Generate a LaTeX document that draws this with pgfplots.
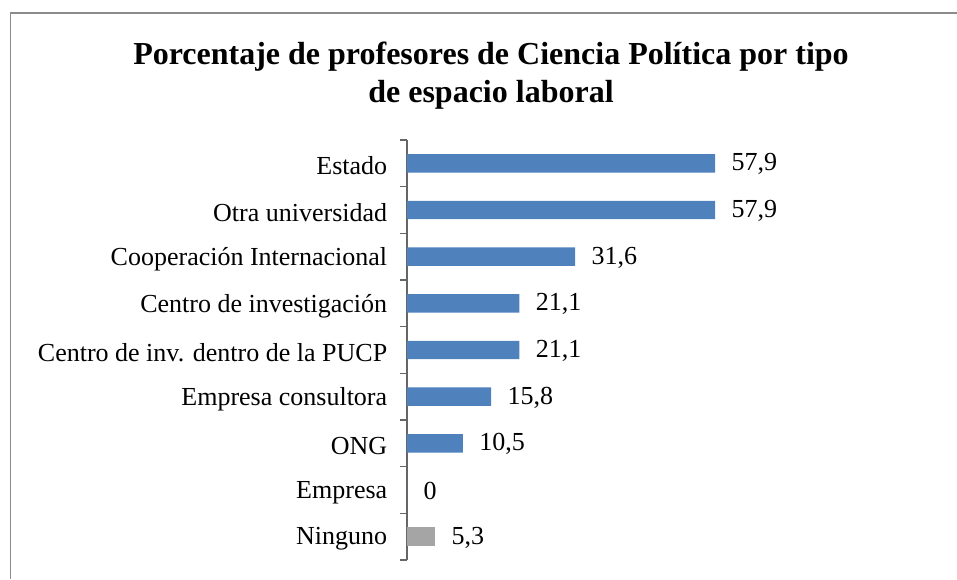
\documentclass[border=0pt]{standalone}
\usepackage{fontspec}
\setmainfont{Liberation Serif}
\usepackage{pgfplots}
\pgfplotsset{compat=1.18}
\definecolor{barblue}{HTML}{4F81BD}
\definecolor{bargray}{HTML}{A5A5A5}
\definecolor{framegray}{HTML}{8C8C8C}
\begin{document}
\begin{tikzpicture}[x=1pt,y=1pt]
\path[use as bounding box] (0,0) rectangle (957,579);
\draw[framegray,line width=1.6pt] (957,566) -- (10.5,566) -- (10.5,0);
\node[font=\fontsize{32}{38}\selectfont\bfseries,align=center] at (491,503) {Porcentaje de profesores de Ciencia Política por tipo\\de espacio laboral};
\begin{axis}[
  at={(407pt,19pt)}, anchor=south west,
  scale only axis, width=532pt, height=420pt,
  xmin=0, xmax=100,
  ymin=-0.5, ymax=8.5, y dir=reverse,
  axis x line=none,
  axis y line*=left,
  y axis line style={draw=gray!80!black, line width=1.2pt},
  ytick={0,...,8},
  yticklabels={Estado,Otra universidad,Cooperación Internacional,Centro de investigación,Centro de inv. dentro de la PUCP,Empresa consultora,ONG,Empresa,Ninguno},
  major y tick style={draw=none},
  minor ytick={-0.5,0.5,...,8.5},
  minor y tick style={draw=gray!80!black, line width=1.2pt},
  minor tick length=7pt,
  tick align=outside,
  yticklabel style={font=\fontsize{26}{30}\selectfont, xshift=-12pt, yshift=-2.5pt},
  xbar, bar width=18.4pt, bar shift=0pt,
  nodes near coords,
  point meta=explicit symbolic,
  every node near coord/.append style={font=\fontsize{26}{30}\selectfont, anchor=west, xshift=13pt, yshift=-1pt, text=black},
  clip=false,
]
\addplot[fill=barblue, draw=none] table[x=v, y=c, meta=l] {
c v l
0 57.9 57,9
1 57.9 57,9
2 31.6 31,6
3 21.1 21,1
4 21.1 21,1
5 15.8 15,8
6 10.5 10,5
7 0 0
};
\addplot[fill=bargray, draw=none] table[x=v, y=c, meta=l] {
c v l
8 5.3 5,3
};
\end{axis}
\end{tikzpicture}
\end{document}
